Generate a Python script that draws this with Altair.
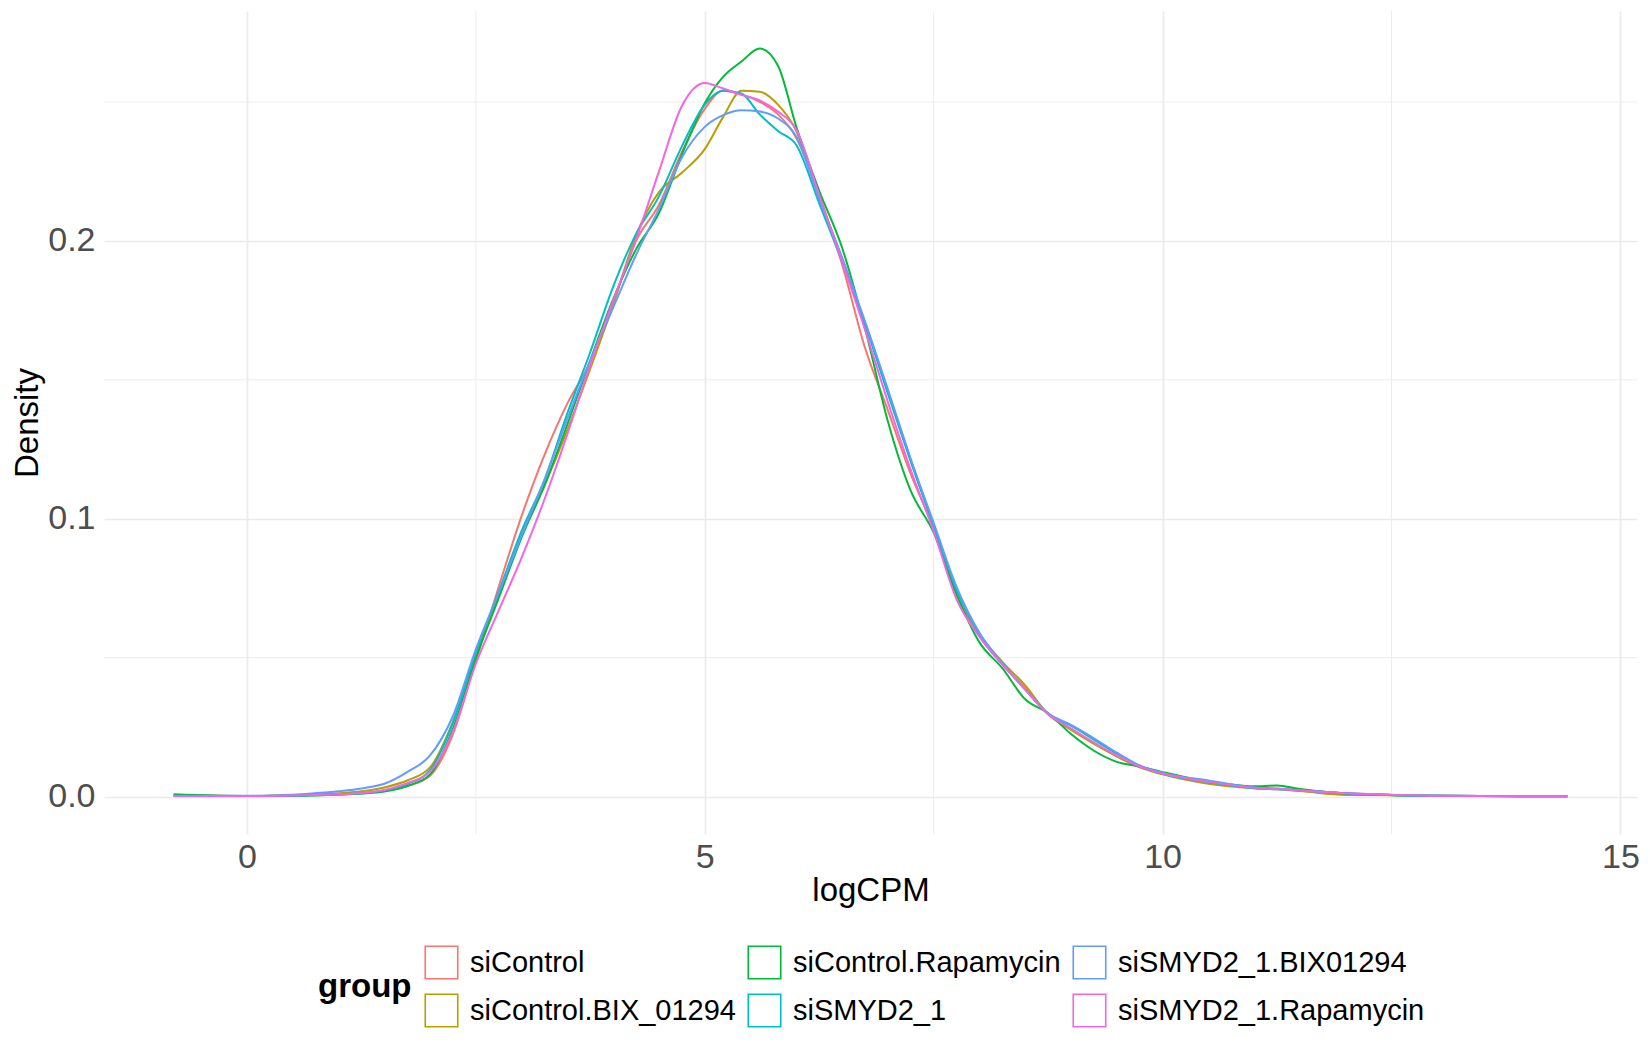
import altair as alt
import pandas as pd

groups = ["siControl", "siControl.BIX_01294", "siControl.Rapamycin",
          "siSMYD2_1", "siSMYD2_1.BIX01294", "siSMYD2_1.Rapamycin"]
colors = ["#F8766D", "#B79F00", "#00BA38", "#00BFC4", "#619CFF", "#F564E3"]
legend_order = [0, 2, 4, 1, 3, 5]

log_cpm = [-0.8, 0.0, 0.5, 1.0, 1.25, 1.5, 1.75, 2.0, 2.25, 2.5, 2.75, 3.0, 3.25, 3.5,
           3.75, 4.0, 4.25, 4.5, 4.75, 5.0, 5.2, 5.4, 5.6, 5.8, 6.0, 6.25, 6.5, 6.75,
           7.0, 7.25, 7.5, 7.75, 8.0, 8.25, 8.5, 8.75, 9.0, 9.25, 9.5, 9.75, 10.0,
           10.5, 11.0, 11.25, 11.5, 12.0, 12.5, 13.0, 14.42]

si_control = [0.0004, 0.0002, 0.0004, 0.0008, 0.0012, 0.0020, 0.0038, 0.0075, 0.0225,
              0.0490, 0.0755, 0.1010, 0.1230, 0.1415, 0.1565, 0.1780, 0.2000, 0.2130,
              0.2320, 0.2475, 0.2540, 0.2527, 0.2500, 0.2455, 0.2370, 0.2160, 0.1915,
              0.1615, 0.1390, 0.1160, 0.0965, 0.0725, 0.0580, 0.0475, 0.0390, 0.0298,
              0.0245, 0.0192, 0.0145, 0.0106, 0.0083, 0.0053, 0.0033, 0.0029, 0.0023,
              0.0012, 0.0006, 0.0003, 0.0001]
si_control_bix = [0.0003, 0.0002, 0.0005, 0.0012, 0.0019, 0.0033, 0.0058, 0.0105, 0.0270,
                  0.0514, 0.0727, 0.0940, 0.1120, 0.1320, 0.1540, 0.1770, 0.2020, 0.2175,
                  0.2245, 0.2330, 0.2445, 0.2540, 0.2536, 0.2490, 0.2395, 0.2160, 0.1935,
                  0.1705, 0.1460, 0.1210, 0.0975, 0.0745, 0.0585, 0.0485, 0.0400, 0.0296,
                  0.0240, 0.0190, 0.0145, 0.0105, 0.0080, 0.0046, 0.0030, 0.0026, 0.0020,
                  0.0006, 0.0005, 0.0003, 0.0001]
si_control_rapa = [0.0008, 0.0002, 0.0003, 0.0007, 0.0011, 0.0018, 0.0038, 0.0080, 0.0245,
                   0.0497, 0.0715, 0.0933, 0.1120, 0.1340, 0.1570, 0.1790, 0.1970, 0.2100,
                   0.2310, 0.2495, 0.2590, 0.2645, 0.2692, 0.2630, 0.2410, 0.2180, 0.1975,
                   0.1685, 0.1350, 0.1100, 0.0950, 0.0728, 0.0555, 0.0462, 0.0350, 0.0300,
                   0.0225, 0.0165, 0.0125, 0.0108, 0.0088, 0.0054, 0.0037, 0.0040, 0.0027,
                   0.0011, 0.0005, 0.0003, 0.0001]
si_smyd2 = [0.0003, 0.0002, 0.0004, 0.0008, 0.0012, 0.0022, 0.0045, 0.0095, 0.0265,
            0.0520, 0.0738, 0.0956, 0.1140, 0.1380, 0.1600, 0.1835, 0.2025, 0.2160,
            0.2340, 0.2490, 0.2540, 0.2530, 0.2455, 0.2395, 0.2345, 0.2135, 0.1925,
            0.1700, 0.1450, 0.1205, 0.0975, 0.0745, 0.0585, 0.0480, 0.0385, 0.0298,
            0.0255, 0.0205, 0.0155, 0.0110, 0.0082, 0.0052, 0.0030, 0.0026, 0.0022,
            0.0012, 0.0006, 0.0003, 0.0001]
si_smyd2_bix = [0.0002, 0.0003, 0.0007, 0.0019, 0.0029, 0.0046, 0.0088, 0.0148, 0.0290,
                0.0530, 0.0733, 0.0940, 0.1140, 0.1360, 0.1570, 0.1760, 0.1950, 0.2115,
                0.2300, 0.2410, 0.2452, 0.2470, 0.2465, 0.2440, 0.2375, 0.2150, 0.1940,
                0.1710, 0.1465, 0.1215, 0.0985, 0.0755, 0.0590, 0.0480, 0.0385, 0.0300,
                0.0258, 0.0210, 0.0158, 0.0112, 0.0085, 0.0058, 0.0033, 0.0028, 0.0023,
                0.0012, 0.0006, 0.0003, 0.0001]
si_smyd2_rapa = [0.0002, 0.0002, 0.0004, 0.0008, 0.0013, 0.0024, 0.0048, 0.0090, 0.0235,
                 0.0478, 0.0670, 0.0860, 0.1070, 0.1305, 0.1555, 0.1785, 0.2005, 0.2250,
                 0.2485, 0.2568, 0.2548, 0.2525, 0.2505, 0.2465, 0.2400, 0.2165, 0.1925,
                 0.1680, 0.1420, 0.1175, 0.0955, 0.0710, 0.0575, 0.0475, 0.0385, 0.0296,
                 0.0245, 0.0195, 0.0148, 0.0108, 0.0083, 0.0053, 0.0032, 0.0027, 0.0022,
                 0.0012, 0.0007, 0.0003, 0.0001]

x_ticks = [0, 5, 10, 15]
y_ticks = [0.0, 0.1, 0.2]
x_minor = [2.5, 7.5, 12.5]
y_minor = [0.05, 0.15, 0.25]

series = [si_control, si_control_bix, si_control_rapa, si_smyd2, si_smyd2_bix, si_smyd2_rapa]
rows = []
for gi, (g, vals) in enumerate(zip(groups, series)):
    for x, y in zip(log_cpm, vals):
        rows.append({"logCPM": x, "Density": y, "group": g, "gi": gi})
df = pd.DataFrame(rows)

FONT = "Liberation Sans"
x_scale = alt.Scale(domain=[-1.561, 15.181], nice=False, zero=False)
y_scale = alt.Scale(domain=[-0.01346, 0.2827], nice=False, zero=False)

x_axis = alt.Axis(values=x_ticks, format="d", title="logCPM", grid=True,
                  gridColor="#EBEBEB", gridWidth=1.7, domain=False, ticks=False,
                  tickSize=0, labelFontSize=34, labelColor="#4D4D4D",
                  labelPadding=6, labelFlush=False, labelOverlap=False,
                  titleFontSize=33, titleFontWeight="normal", titleColor="black",
                  titlePadding=0)
y_axis = alt.Axis(values=y_ticks, format=".1f", title="Density", grid=True,
                  gridColor="#EBEBEB", gridWidth=1.7, domain=False, ticks=False,
                  tickSize=0, labelFontSize=34, labelColor="#4D4D4D",
                  labelPadding=9, labelFlush=False, labelOverlap=False,
                  titleFontSize=33, titleFontWeight="normal", titleColor="black",
                  titlePadding=3)

minor_x = alt.Chart(pd.DataFrame({"logCPM": x_minor})).mark_rule(
    color="#EBEBEB", strokeWidth=0.9
).encode(x=alt.X("logCPM:Q", scale=x_scale, axis=x_axis))

minor_y = alt.Chart(pd.DataFrame({"Density": y_minor})).mark_rule(
    color="#EBEBEB", strokeWidth=0.9
).encode(y=alt.Y("Density:Q", scale=y_scale, axis=y_axis))

leg_domain = [groups[i] for i in legend_order]
leg_range = [colors[i] for i in legend_order]

lines = alt.Chart(df).mark_line(strokeWidth=2.0, interpolate="monotone").encode(
    x=alt.X("logCPM:Q", scale=x_scale, axis=x_axis),
    y=alt.Y("Density:Q", scale=y_scale, axis=y_axis),
    color=alt.Color("group:N", scale=alt.Scale(domain=leg_domain, range=leg_range),
                    legend=alt.Legend(title="group", orient="none", legendX=214,
                                      legendY=934, columns=3, direction="horizontal",
                                      titleOrient="left", titleAnchor="middle",
                                      titleBaseline="middle",
                                      titleFontSize=33, titleFontWeight="bold",
                                      titleColor="black", titlePadding=12,
                                      symbolType="square", symbolSize=1056,
                                      symbolStrokeWidth=1.6, symbolFillColor="white",
                                      labelFontSize=29, labelColor="black",
                                      labelLimit=600,
                                      labelOffset=11, columnPadding=9, rowPadding=9)),
    detail="gi:N",
    order="gi:Q",
)

chart = alt.layer(minor_x, minor_y, lines).properties(
    width=1533, height=823,
    autosize=alt.AutoSizeParams(type="none"),
    padding={"left": 96, "top": 3, "right": 4, "bottom": 208},
    background="white",
).configure(font=FONT).configure_view(stroke=None)

chart.save("out.html", embed_options={"renderer": "svg", "actions": False})
